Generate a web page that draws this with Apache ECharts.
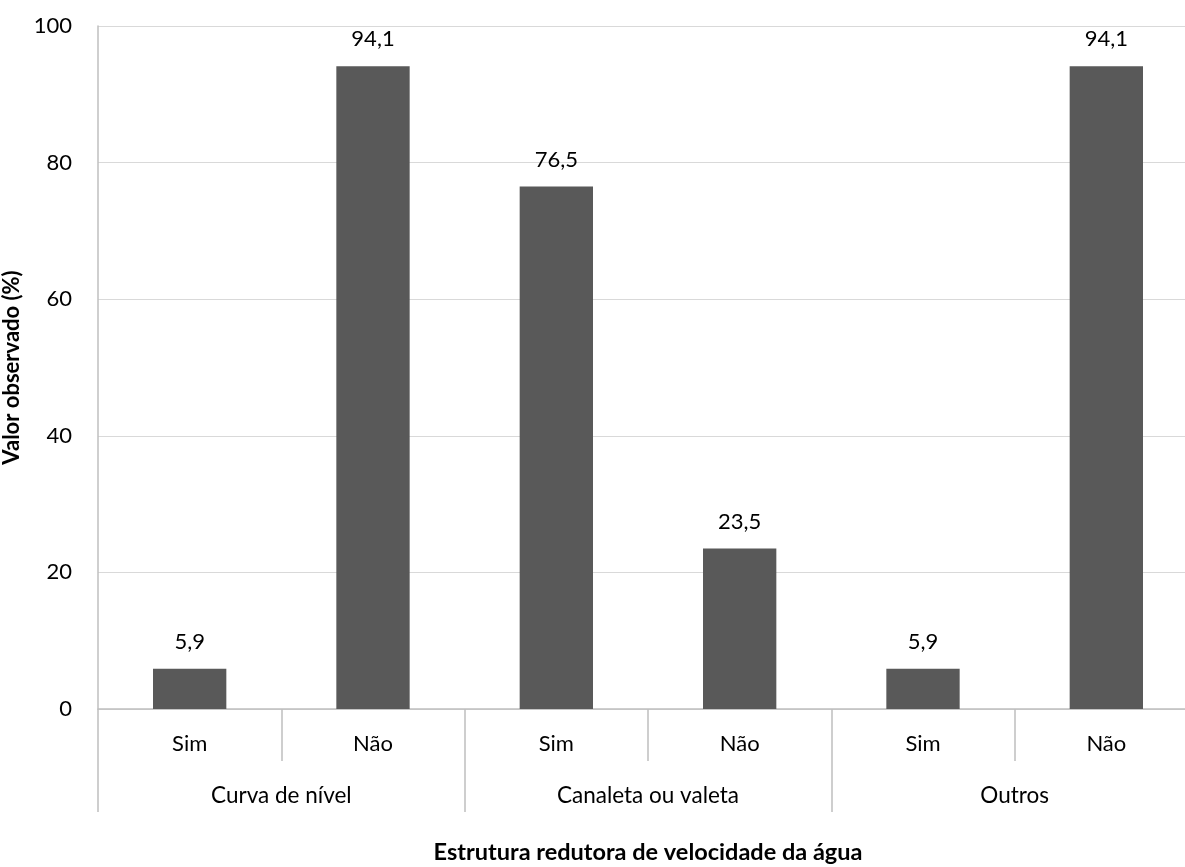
<!DOCTYPE html>
<html>
<head>
<meta charset="utf-8">
<script src="https://cdn.jsdelivr.net/npm/echarts@6/dist/echarts.min.js"></script>
<style>
html,body{margin:0;padding:0;background:#fff;}
#chart{width:1185px;height:867px;}
</style>
</head>
<body>
<div id="chart"></div>
<script>
var subCategories = ['Sim', 'Não', 'Sim', 'Não', 'Sim', 'Não'];
var groupCategories = ['Curva de nível', 'Canaleta ou valeta', 'Outros'];
var values = [5.9, 94.1, 76.5, 23.5, 5.9, 94.1];
var yTicks = [0, 20, 40, 60, 80, 100];

var FONT = 'Lato';
var FS = 22;
var chart = echarts.init(document.getElementById('chart'));
chart.setOption({
  animation: false,
  textStyle: {fontFamily: FONT},
  grid: {left: 98, right: -13, top: 26, bottom: 158, containLabel: false, outerBoundsMode: 'none'},
  xAxis: [{
    type: 'category',
    data: subCategories,
    position: 'bottom',
    axisLine: {show: true, lineStyle: {color: '#bfbfbf', width: 1.5}},
    axisTick: {show: true, interval: 0, length: 52, lineStyle: {color: '#bfbfbf', width: 1.5}},
    axisLabel: {interval: 0, margin: 24, color: '#000', fontSize: FS, fontFamily: FONT}
  }, {
    type: 'category',
    data: groupCategories,
    position: 'bottom',
    offset: 0,
    axisLine: {show: false},
    axisTick: {show: true, interval: 0, length: 103, lineStyle: {color: '#bfbfbf', width: 1.5}},
    axisLabel: {interval: 0, margin: 75, color: '#000', fontSize: 22.5, fontFamily: FONT},
    name: 'Estrutura redutora de velocidade da água',
    nameLocation: 'middle',
    nameGap: 131,
    nameTextStyle: {fontWeight: 'bold', fontSize: 23.5, color: '#000', fontFamily: FONT}
  }],
  yAxis: {
    type: 'value',
    min: 0, max: 100, interval: 20,
    axisLine: {show: true, lineStyle: {color: '#bfbfbf', width: 1.5}},
    axisTick: {show: false},
    splitLine: {show: true, lineStyle: {color: '#d9d9d9', width: 1}},
    axisLabel: {margin: 26, color: '#000', fontSize: FS, fontFamily: FONT,
      formatter: function (v) { return yTicks.indexOf(v) >= 0 ? String(v) : ''; }},
    name: 'Valor observado (%)',
    nameLocation: 'middle',
    nameGap: 67,
    nameTextStyle: {fontWeight: 'bold', fontSize: FS, color: '#000', fontFamily: FONT}
  },
  series: [{
    type: 'bar',
    xAxisIndex: 0,
    data: values,
    barWidth: '40%',
    itemStyle: {color: '#595959'},
    label: {
      show: true, position: 'top', distance: 16, color: '#000', fontSize: FS, fontFamily: FONT,
      formatter: function (p) { return String(p.value).replace('.', ','); }
    }
  }]
});
</script>
</body>
</html>
